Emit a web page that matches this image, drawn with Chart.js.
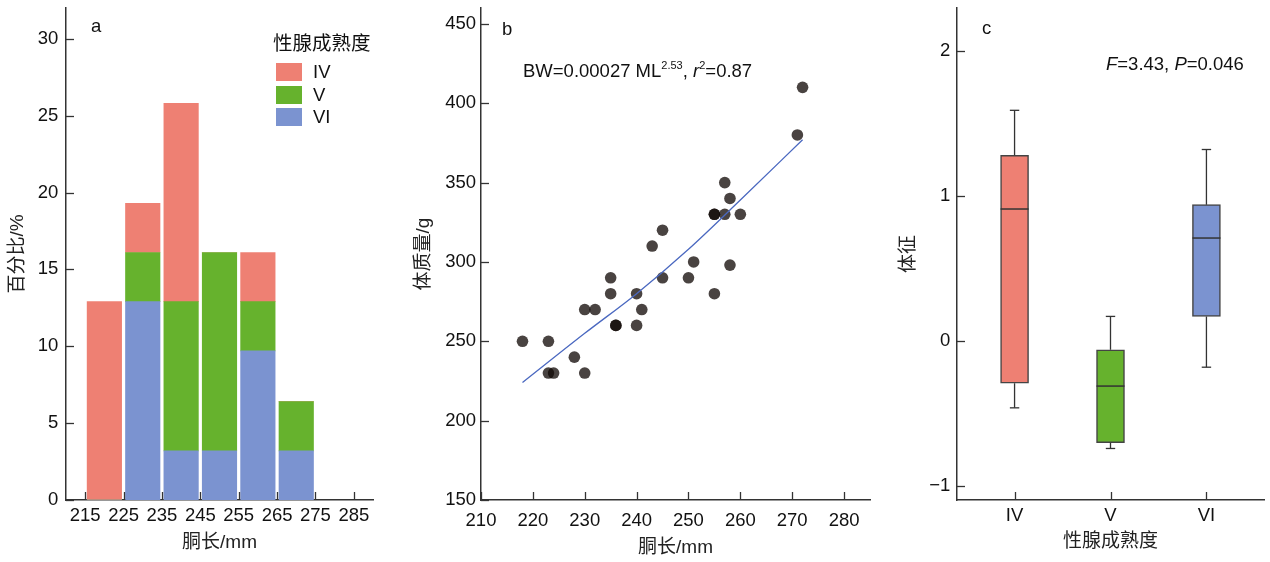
<!DOCTYPE html>
<html>
<head>
<meta charset="utf-8">
<script src="https://cdn.jsdelivr.net/npm/chart.js@4.4.1/dist/chart.umd.min.js"></script>
<style>
  body { margin: 0; background: #fff; }
  #wrap { position: relative; width: 1270px; height: 562px; overflow: hidden;
          font-family: 'Liberation Sans', 'Noto Sans CJK SC', sans-serif; color: #111; }
  canvas { position: absolute; top: 0; }
  .note { position: absolute; font-size: 18.5px; line-height: 1; white-space: nowrap; }
  .sup { font-size: 11px; position: relative; top: -8px; }
  .leg-title { position: absolute; font-size: 19.5px; line-height: 1; white-space: nowrap; }
  .leg-box { position: absolute; width: 26px; height: 18px; }
  .leg-text { position: absolute; font-size: 18.5px; line-height: 18px; }
</style>
</head>
<body>
<div id="wrap">
  <canvas id="chartA" width="385" height="562" style="left:0px"></canvas>
  <canvas id="chartB" width="482" height="562" style="left:400px"></canvas>
  <canvas id="chartC" width="390" height="562" style="left:880px"></canvas>

  <div class="note" style="left:91px;top:17px">a</div>
  <div class="note" style="left:502px;top:20px">b</div>
  <div class="note" style="left:982px;top:19px">c</div>

  <div class="note" style="left:523px;top:62px">BW=0.00027 ML<span class="sup">2.53</span>, <i>r</i><span class="sup">2</span>=0.87</div>
  <div class="note" style="left:1106px;top:55px"><i>F</i>=3.43, <i>P</i>=0.046</div>

  <div id="legendA"></div>
</div>

<script>
// ---------- panel a: mantle length distribution by gonad stage ----------
const binCenters = [220, 230, 240, 250, 260, 270];
const pctIV = [12.9, 3.2, 12.9, 0, 3.2, 0];
const pctV  = [0, 3.2, 9.7, 12.9, 3.2, 3.2];
const pctVI = [0, 12.9, 3.2, 3.2, 9.7, 3.2];
const lenTicksA = [215, 225, 235, 245, 255, 265, 275, 285];
const pctTicks = [0, 5, 10, 15, 20, 25, 30];

// ---------- panel b: body weight vs mantle length ----------
const mantleLen = [218, 223, 223, 224, 228, 230, 230, 232, 235, 235, 236, 236, 240, 240, 241,
                   243, 245, 245, 250, 251, 255, 255, 255, 257, 257, 258, 258, 260, 271, 272];
const bodyWt    = [250, 250, 230, 230, 240, 230, 270, 270, 290, 280, 260, 260, 280, 260, 270,
                   310, 320, 290, 290, 300, 280, 330, 330, 350, 330, 340, 298, 330, 380, 410];
const fitLen = [218, 230, 240, 250, 260, 272];
const fitWt  = [224, 255, 280, 308, 339, 377];
const lenTicksB = [210, 220, 230, 240, 250, 260, 270, 280];
const wtTicks = [150, 200, 250, 300, 350, 400, 450];

// ---------- panel c: condition by gonad stage ----------
const stages = ['IV', 'V', 'VI'];
const stagePos = [0, 1, 2];
const boxLow    = [-0.29, -0.70, 0.17];
const boxHigh   = [1.28, -0.06, 0.94];
const medians   = [0.91, -0.31, 0.71];
const whiskLow  = [-0.46, -0.74, -0.18];
const whiskHigh = [1.59, 0.17, 1.32];
const condTicks = [-1, 0, 1, 2];

const stageColors = { IV: '#EE8073', V: '#66B22D', VI: '#7B93D0' };
const AXIS = '#333';
const tickFont = { family: "'Liberation Sans', 'Noto Sans CJK SC', sans-serif", size: 18.5 };
const titleFont = { family: "'Liberation Sans', 'Noto Sans CJK SC', sans-serif", size: 19 };

// ticks pointing into the plot area
const inwardTicks = {
    id: 'inwardTicks',
    afterDraw(chart) {
        const ctx = chart.ctx;
        const area = chart.chartArea;
        ctx.save();
        ctx.strokeStyle = AXIS;
        ctx.lineWidth = 1.3;
        Object.values(chart.scales).forEach(scale => {
            scale.ticks.forEach(t => {
                const p = Math.round(scale.getPixelForValue(t.value)) + 0.5;
                ctx.beginPath();
                if (scale.isHorizontal()) {
                    ctx.moveTo(p, area.bottom);
                    ctx.lineTo(p, area.bottom - 8);
                } else {
                    ctx.moveTo(area.left, p);
                    ctx.lineTo(area.left + 8, p);
                }
                ctx.stroke();
            });
        });
        ctx.restore();
    }
};

function setTicks(values) {
    return scale => { scale.ticks = values.map(v => ({ value: v })); };
}

// fixed axis box size, no extra room reserved for edge labels
function fixSize(w, h) {
    return scale => {
        if (w !== null) scale.width = w;
        if (h !== null) scale.height = h;
        scale.paddingTop = 0; scale.paddingBottom = 0;
        scale.paddingLeft = 0; scale.paddingRight = 0;
    };
}

function axis(opts) {
    // shared look for every axis
    return Object.assign({
        grid: { display: false, drawTicks: false },
        border: { display: true, color: AXIS, width: 1.5 },
        ticks: { color: '#111', font: tickFont, autoSkip: false, maxRotation: 0, minRotation: 0, padding: 6 },
    }, opts);
}

const baseOptions = {
    animation: false,
    responsive: false,
    devicePixelRatio: 1,
    events: [],
    plugins: { legend: { display: false }, tooltip: { enabled: false } },
};

// ---------------- chart a ----------------
const chartA = new Chart(document.getElementById('chartA'), {
    type: 'bar',
    data: {
        datasets: [
            { label: 'VI', data: binCenters.map((x, i) => ({ x, y: pctVI[i] })), backgroundColor: stageColors.VI },
            { label: 'V',  data: binCenters.map((x, i) => ({ x, y: pctV[i] })),  backgroundColor: stageColors.V },
            { label: 'IV', data: binCenters.map((x, i) => ({ x, y: pctIV[i] })), backgroundColor: stageColors.IV },
        ]
    },
    options: Object.assign({}, baseOptions, {
        layout: { autoPadding: false, padding: { top: 8, right: 12 } },
        datasets: { bar: { barThickness: 34.5, borderWidth: 0 } },
        scales: {
            x: axis({
                type: 'linear', min: 210, max: 290, offset: false, stacked: true,
                ticks: Object.assign({}, axis({}).ticks, { padding: 5 }),
                afterBuildTicks: setTicks(lenTicksA),
                afterFit: fixSize(null, 62),
                title: { display: true, text: '胴长/mm', color: '#222', font: titleFont, padding: { top: 0, bottom: 7.6 } }
            }),
            y: axis({
                min: 0, max: 32, stacked: true,
                ticks: Object.assign({}, axis({}).ticks, { padding: 7.7 }),
                afterBuildTicks: setTicks(pctTicks),
                afterFit: fixSize(66, null),
                title: { display: true, text: '百分比/%', color: '#222', font: titleFont, padding: { top: 6.5, bottom: 0 } }
            })
        }
    }),
    plugins: [inwardTicks]
});

// legend for panel a, built from the chart's datasets (top row = last stacked)
const legendA = document.getElementById('legendA');
legendA.innerHTML = '<div class="leg-title" style="left:273px;top:34px">性腺成熟度</div>';
chartA.data.datasets.slice().reverse().forEach((ds, i) => {
    const top = 63 + i * 22.5;
    legendA.innerHTML +=
        `<div class="leg-box" style="left:276px;top:${top}px;background:${ds.backgroundColor}"></div>` +
        `<div class="leg-text" style="left:313px;top:${top}px">${ds.label}</div>`;
});

// ---------------- chart b ----------------
new Chart(document.getElementById('chartB'), {
    type: 'scatter',
    data: {
        datasets: [
            {
                type: 'line',
                data: fitLen.map((x, i) => ({ x, y: fitWt[i] })),
                borderColor: '#4A68C0', borderWidth: 1.3, pointRadius: 0,
                cubicInterpolationMode: 'monotone', fill: false
            },
            {
                data: mantleLen.map((x, i) => ({ x, y: bodyWt[i] })),
                backgroundColor: 'rgba(16, 8, 5, 0.76)', pointRadius: 5.8, pointBorderWidth: 0
            }
        ]
    },
    options: Object.assign({}, baseOptions, {
        layout: { autoPadding: false, padding: { top: 8, right: 12 } },
        scales: {
            x: axis({
                type: 'linear', min: 210, max: 285,
                ticks: Object.assign({}, axis({}).ticks, { padding: 10 }),
                afterBuildTicks: setTicks(lenTicksB),
                afterFit: fixSize(null, 62),
                title: { display: true, text: '胴长/mm', color: '#222', font: titleFont, padding: { top: 0, bottom: 2.6 } }
            }),
            y: axis({
                min: 150, max: 460,
                ticks: Object.assign({}, axis({}).ticks, { padding: 5 }),
                afterBuildTicks: setTicks(wtTicks),
                afterFit: fixSize(81, null),
                title: { display: true, text: '体质量/g', color: '#222', font: titleFont, padding: { top: 12.6, bottom: 0 } }
            })
        }
    }),
    plugins: [inwardTicks]
});

// ---------------- chart c ----------------
const whiskerPts = [];
stagePos.forEach((x, i) => {
    whiskerPts.push({ x, y: whiskHigh[i] }, { x, y: boxHigh[i] }, { x, y: null },
                    { x, y: boxLow[i] }, { x, y: whiskLow[i] }, { x, y: null });
});

new Chart(document.getElementById('chartC'), {
    type: 'bar',
    data: {
        datasets: [
            {   // medians
                type: 'line', showLine: false,
                data: stagePos.map((x, i) => ({ x, y: medians[i] })),
                pointStyle: 'line', pointRadius: 14, pointBorderWidth: 1.5, pointBorderColor: AXIS
            },
            {   // whisker caps
                type: 'line', showLine: false,
                data: stagePos.flatMap((x, i) => [{ x, y: whiskHigh[i] }, { x, y: whiskLow[i] }]),
                pointStyle: 'line', pointRadius: 4.7, pointBorderWidth: 1.3, pointBorderColor: AXIS
            },
            {   // whiskers
                type: 'line', data: whiskerPts, spanGaps: false,
                borderColor: AXIS, borderWidth: 1.3, pointRadius: 0, fill: false
            },
            {   // boxes
                data: stagePos.map((x, i) => ({ x, y: [boxLow[i], boxHigh[i]] })),
                backgroundColor: stages.map(s => stageColors[s]),
                borderColor: '#444', borderWidth: 1.5, borderSkipped: false, barThickness: 28
            }
        ]
    },
    options: Object.assign({}, baseOptions, {
        layout: { autoPadding: false, padding: { top: 8, right: 6 } },
        scales: {
            x: axis({
                type: 'linear', min: -0.6, max: 2.6, offset: false,
                ticks: Object.assign({}, axis({}).ticks, { padding: 5, callback: v => stages[v] }),
                afterBuildTicks: setTicks(stagePos),
                afterFit: fixSize(null, 62),
                title: { display: true, text: '性腺成熟度', color: '#222', font: titleFont, padding: { top: 0, bottom: 8.6 } }
            }),
            y: axis({
                min: -1.095, max: 2.295,
                ticks: Object.assign({}, axis({}).ticks, { padding: 6.6, callback: v => v < 0 ? '\u2212' + Math.abs(v) : String(v) }),
                afterBuildTicks: setTicks(condTicks),
                afterFit: fixSize(77, null),
                title: { display: true, text: '体征', color: '#222', font: titleFont, padding: { top: 17.6, bottom: 0 } }
            })
        }
    }),
    plugins: [inwardTicks]
});
</script>
</body>
</html>
